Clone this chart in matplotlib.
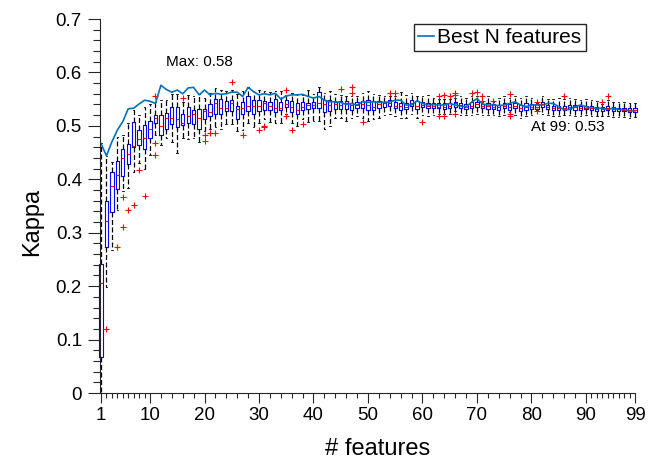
import numpy as np
import matplotlib.pyplot as plt
from matplotlib.ticker import FixedLocator

plt.rcParams['font.family'] = ['Liberation Sans', 'DejaVu Sans']

n_feat = np.arange(1, 100)

# box stats, one value per number of features
q1 = [0.067, 0.274, 0.339, 0.382, 0.406, 0.428, 0.461, 0.465, 0.457, 0.478,
      0.505, 0.483, 0.495, 0.503, 0.497, 0.501, 0.505, 0.503, 0.495, 0.512,
      0.519, 0.523, 0.522, 0.528, 0.527, 0.513, 0.523, 0.528, 0.522, 0.528,
      0.529, 0.530, 0.526, 0.529, 0.536, 0.525, 0.523, 0.529, 0.531, 0.533,
      0.533, 0.525, 0.527, 0.532, 0.532, 0.532, 0.529, 0.533, 0.533, 0.530,
      0.529, 0.533, 0.536, 0.537, 0.533, 0.530, 0.531, 0.537, 0.532, 0.536,
      0.533, 0.533, 0.533, 0.532, 0.533, 0.536, 0.533, 0.532, 0.533, 0.536,
      0.533, 0.532, 0.532, 0.530, 0.533, 0.530, 0.533, 0.528, 0.530, 0.532,
      0.532, 0.536, 0.532, 0.529, 0.530, 0.530, 0.532, 0.530, 0.529, 0.531,
      0.530, 0.528, 0.528, 0.529, 0.527, 0.527, 0.527, 0.526, 0.526]
med = [0.205, 0.321, 0.387, 0.408, 0.439, 0.447, 0.463, 0.475, 0.478, 0.495,
       0.514, 0.500, 0.514, 0.514, 0.513, 0.505, 0.519, 0.522, 0.514, 0.527,
       0.526, 0.542, 0.534, 0.533, 0.542, 0.532, 0.533, 0.538, 0.538, 0.538,
       0.542, 0.538, 0.533, 0.533, 0.540, 0.536, 0.530, 0.536, 0.539, 0.539,
       0.542, 0.540, 0.539, 0.540, 0.539, 0.542, 0.539, 0.539, 0.540, 0.539,
       0.536, 0.540, 0.542, 0.542, 0.538, 0.538, 0.536, 0.542, 0.538, 0.539,
       0.538, 0.538, 0.536, 0.536, 0.538, 0.542, 0.539, 0.536, 0.538, 0.540,
       0.537, 0.537, 0.536, 0.535, 0.537, 0.535, 0.537, 0.533, 0.536, 0.536,
       0.536, 0.540, 0.536, 0.534, 0.534, 0.534, 0.535, 0.535, 0.533, 0.534,
       0.534, 0.532, 0.532, 0.533, 0.531, 0.531, 0.530, 0.530, 0.529]
q3 = [0.241, 0.359, 0.413, 0.435, 0.456, 0.466, 0.508, 0.492, 0.501, 0.509,
      0.521, 0.520, 0.524, 0.536, 0.536, 0.522, 0.535, 0.530, 0.532, 0.531,
      0.541, 0.550, 0.551, 0.547, 0.548, 0.538, 0.545, 0.555, 0.548, 0.548,
      0.547, 0.545, 0.550, 0.545, 0.548, 0.547, 0.543, 0.544, 0.543, 0.544,
      0.563, 0.548, 0.548, 0.545, 0.546, 0.546, 0.543, 0.545, 0.547, 0.548,
      0.546, 0.546, 0.545, 0.548, 0.545, 0.543, 0.543, 0.548, 0.546, 0.545,
      0.543, 0.543, 0.542, 0.542, 0.542, 0.545, 0.543, 0.540, 0.544, 0.544,
      0.541, 0.542, 0.540, 0.539, 0.542, 0.540, 0.542, 0.539, 0.542, 0.540,
      0.541, 0.544, 0.539, 0.538, 0.538, 0.537, 0.539, 0.539, 0.537, 0.538,
      0.537, 0.535, 0.536, 0.538, 0.535, 0.534, 0.534, 0.533, 0.533]
wlo = [0.000, 0.198, 0.268, 0.342, 0.378, 0.383, 0.414, 0.430, 0.420, 0.445,
       0.483, 0.465, 0.478, 0.470, 0.449, 0.478, 0.475, 0.478, 0.470, 0.490,
       0.495, 0.497, 0.495, 0.503, 0.503, 0.490, 0.492, 0.505, 0.497, 0.505,
       0.512, 0.508, 0.505, 0.505, 0.522, 0.505, 0.500, 0.512, 0.508, 0.510,
       0.510, 0.495, 0.500, 0.515, 0.515, 0.510, 0.515, 0.518, 0.515, 0.510,
       0.512, 0.515, 0.520, 0.522, 0.518, 0.515, 0.515, 0.522, 0.515, 0.520,
       0.518, 0.520, 0.522, 0.522, 0.522, 0.528, 0.520, 0.520, 0.520, 0.522,
       0.520, 0.520, 0.520, 0.518, 0.520, 0.525, 0.520, 0.515, 0.518, 0.520,
       0.530, 0.522, 0.520, 0.518, 0.518, 0.520, 0.520, 0.518, 0.518, 0.520,
       0.518, 0.518, 0.518, 0.518, 0.516, 0.517, 0.516, 0.515, 0.516]
whi = [0.467, 0.444, 0.433, 0.480, 0.482, 0.505, 0.530, 0.520, 0.535, 0.541,
       0.545, 0.548, 0.548, 0.560, 0.560, 0.545, 0.558, 0.555, 0.560, 0.552,
       0.562, 0.570, 0.568, 0.565, 0.568, 0.560, 0.565, 0.572, 0.565, 0.568,
       0.565, 0.563, 0.565, 0.565, 0.558, 0.562, 0.560, 0.558, 0.567, 0.560,
       0.572, 0.562, 0.565, 0.560, 0.558, 0.556, 0.555, 0.555, 0.562, 0.565,
       0.560, 0.558, 0.555, 0.555, 0.555, 0.563, 0.558, 0.562, 0.555, 0.556,
       0.558, 0.553, 0.550, 0.550, 0.550, 0.553, 0.555, 0.553, 0.555, 0.556,
       0.545, 0.555, 0.545, 0.552, 0.556, 0.552, 0.555, 0.552, 0.555, 0.553,
       0.543, 0.555, 0.550, 0.550, 0.552, 0.550, 0.552, 0.550, 0.548, 0.550,
       0.548, 0.546, 0.541, 0.548, 0.545, 0.545, 0.544, 0.543, 0.542]

# outliers (number of features, kappa)
out_k = [2, 4, 5, 5, 6, 7, 8, 9, 11, 11, 11, 16, 20, 20, 21, 22, 25, 27, 30,
         31, 31, 35, 35, 36, 38, 45, 47, 47, 49, 54, 55, 60, 63, 63, 64, 64,
         65, 66, 66, 66, 69, 70, 71, 71, 73, 76, 76, 76, 81, 81, 86, 93, 94]
out_v = [0.119, 0.274, 0.366, 0.311, 0.342, 0.352, 0.417, 0.369, 0.556, 0.468,
         0.445, 0.553, 0.483, 0.471, 0.486, 0.486, 0.583, 0.483, 0.493, 0.500,
         0.498, 0.567, 0.518, 0.492, 0.503, 0.569, 0.573, 0.561, 0.508, 0.562,
         0.561, 0.508, 0.556, 0.519, 0.558, 0.519, 0.556, 0.561, 0.558, 0.523,
         0.562, 0.563, 0.556, 0.547, 0.547, 0.560, 0.522, 0.518, 0.545, 0.527,
         0.555, 0.544, 0.556]

# best N features curve
best = [0.467, 0.444, 0.470, 0.492, 0.508, 0.532, 0.533, 0.541, 0.548, 0.546,
        0.542, 0.576, 0.568, 0.563, 0.567, 0.560, 0.571, 0.572, 0.558, 0.567,
        0.558, 0.561, 0.559, 0.560, 0.563, 0.563, 0.555, 0.572, 0.564, 0.558,
        0.560, 0.558, 0.561, 0.550, 0.556, 0.558, 0.558, 0.559, 0.555, 0.552,
        0.555, 0.548, 0.545, 0.545, 0.544, 0.540, 0.542, 0.539, 0.545, 0.544,
        0.545, 0.544, 0.544, 0.545, 0.548, 0.548, 0.539, 0.539, 0.547, 0.542,
        0.539, 0.540, 0.539, 0.539, 0.542, 0.539, 0.537, 0.536, 0.544, 0.551,
        0.541, 0.539, 0.539, 0.538, 0.539, 0.542, 0.545, 0.539, 0.536, 0.539,
        0.539, 0.539, 0.542, 0.542, 0.536, 0.530, 0.531, 0.536, 0.539, 0.536,
        0.533, 0.533, 0.533, 0.531, 0.533, 0.531, 0.530, 0.528, 0.528]

x_ticks = [1, 10, 20, 30, 40, 50, 60, 70, 80, 90, 99]
y_ticks = [0, 0.1, 0.2, 0.3, 0.4, 0.5, 0.6, 0.7]
y_labels = ['0', '0.1', '0.2', '0.3', '0.4', '0.5', '0.6', '0.7']

stats = []
for i, k in enumerate(n_feat):
    fl = [v for kk, v in zip(out_k, out_v) if kk == k]
    stats.append(dict(med=med[i], q1=q1[i], q3=q3[i], whislo=wlo[i],
                      whishi=whi[i], fliers=fl))

fig = plt.figure(figsize=(6.59, 4.62), dpi=100)
ax = fig.add_axes([100/659, 69/462, 535/659, 374/462])

parts = ax.bxp(stats, positions=n_feat, widths=0.6, manage_ticks=False,
               boxprops=dict(color='blue', lw=0.8),
               medianprops=dict(color='red', lw=0.8),
               whiskerprops=dict(color='black', lw=0.9, ls=(0, (4, 2))),
               capprops=dict(color='black', lw=0.6),
               flierprops=dict(marker='+', markeredgecolor='red', markersize=4.5,
                               markeredgewidth=0.8, linestyle='none'))
for key in parts:
    for a in parts[key]:
        a.set_clip_on(False)

ax.plot(n_feat, best, color='#0072BD', lw=1.2, label='Best N features', clip_on=False)

ax.text(13, 0.62, 'Max: %.2f' % max(best), fontsize=11, ha='left', va='center')
ax.text(80, 0.498, 'At 99: %.2f' % best[-1], fontsize=11, ha='left', va='center')

ax.set_xlim(0.82, 99)
ax.set_ylim(0, 0.7)
ax.xaxis.set_major_locator(FixedLocator(x_ticks))
ax.xaxis.set_minor_locator(FixedLocator(list(range(2, 10)) + list(range(12, 90, 2)) + list(range(91, 99))))
ax.yaxis.set_major_locator(FixedLocator(y_ticks))
ax.yaxis.set_minor_locator(FixedLocator(np.arange(0.02, 0.7, 0.02)))
ax.set_xticklabels([str(t) for t in x_ticks])
ax.set_yticklabels(y_labels)

ax.spines['top'].set_visible(False)
ax.spines['right'].set_visible(False)
for s in ['left', 'bottom']:
    ax.spines[s].set_color('#262626')
    ax.spines[s].set_linewidth(0.8)
ax.tick_params(axis='both', which='both', direction='out', color='#262626',
               labelsize=13.5, width=0.8)
ax.tick_params(axis='x', which='major', length=7, pad=3)
ax.tick_params(axis='x', which='minor', length=3.5)
ax.tick_params(axis='y', which='major', length=9, pad=4)
ax.tick_params(axis='y', which='minor', length=5)

ax.set_xlabel('# features', fontsize=17)
ax.set_ylabel('Kappa', fontsize=17)
ax.xaxis.set_label_coords(0.518, -0.12)
ax.yaxis.set_label_coords(-0.107, 0.457)

ax.legend(loc='upper right', bbox_to_anchor=(0.908, 0.987), fontsize=15,
          handlelength=0.8, handletextpad=0.15, borderpad=0.2, borderaxespad=0,
          fancybox=False, edgecolor='#262626', framealpha=1)

plt.savefig('out.png', dpi=100)
